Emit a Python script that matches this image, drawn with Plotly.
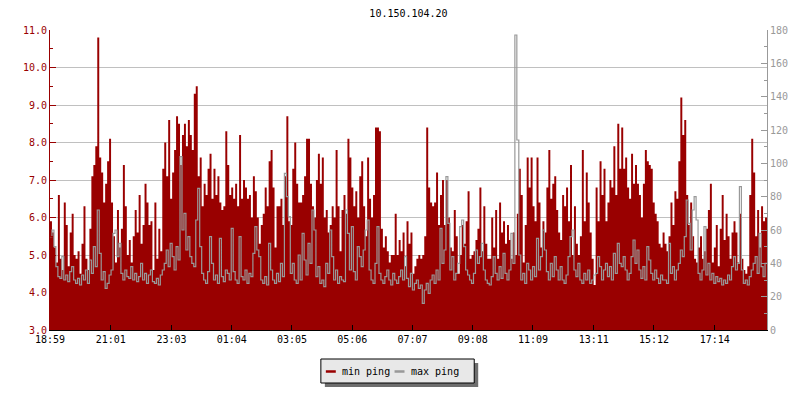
import pandas as pd
import plotly.graph_objects as go

# ---- data ----
title = "10.150.104.20"
start = pd.Timestamp("2024-01-01 18:59")
span = pd.Timedelta(hours=24)

tick_labels = ["18:59", "21:01", "23:03", "01:04", "03:05", "05:06",
               "07:07", "09:08", "11:09", "13:11", "15:12", "17:14"]

# min ping (ms, left axis), one value per ~4 minutes
min_ping = [
    # 18:59 - 22:25
    5.9, 5.6, 5.2, 4.8, 6.6, 4.9, 4.6, 6.4, 5.8, 4.7, 5.6, 6.1, 5.0, 4.9, 5.1, 4.5, 5.3, 6.3,
    4.9, 4.6, 5.7, 7.1, 7.4, 7.9, 10.8, 7.6, 7.2, 6.4, 6.9, 7.5, 8.1, 6.4, 5.5, 4.8, 6.2, 5.2,
    5.7, 7.4, 6.3, 5.0, 5.4, 4.8, 5.5, 6.2, 5.6, 6.6, 5.3, 5.8, 6.9, 6.4, 5.8, 5.9,
    # 22:25 - 01:51
    4.6, 6.4, 4.9, 5.7, 5.1, 7.3, 8.0, 7.1, 8.6, 6.5, 7.2, 7.8, 8.7, 8.5, 7.4, 8.2, 8.5, 7.9,
    8.6, 8.2, 7.8, 9.3, 9.5, 7.1, 7.6, 6.3, 6.9, 6.6, 7.3, 7.7, 6.5, 7.3, 6.6, 7.1, 6.4, 6.2,
    6.3, 8.3, 7.4, 6.6, 6.8, 6.5, 6.9, 6.3, 8.2, 6.5, 7.0, 6.8, 6.5, 6.6, 6.0, 7.1,
    # 01:51 - 05:17
    6.7, 6.0, 5.3, 5.8, 6.1, 6.8, 6.3, 7.5, 7.8, 6.8, 5.2, 6.3, 6.3, 6.5, 5.8, 7.1, 8.7, 5.9,
    5.8, 7.3, 8.0, 6.9, 6.4, 6.4, 6.6, 7.1, 8.1, 8.1, 6.9, 6.3, 6.0, 7.0, 7.7, 6.9, 7.6, 6.0,
    6.2, 5.6, 5.8, 6.3, 6.0, 7.8, 6.3, 5.1, 6.2, 6.6, 6.1, 8.1, 7.6, 6.8, 6.3, 6.7,
    # 05:17 - 08:43
    6.0, 7.1, 7.5, 6.3, 5.5, 7.6, 6.5, 6.0, 6.6, 8.4, 8.4, 8.3, 5.7, 5.2, 5.5, 5.1, 4.8, 5.0,
    5.0, 6.1, 5.0, 5.4, 5.1, 5.6, 4.7, 5.9, 5.3, 5.6, 4.5, 4.7, 4.9, 5.0, 4.9, 5.0, 5.5, 8.4,
    6.8, 6.4, 6.3, 6.4, 7.2, 5.8, 6.6, 7.0, 5.8, 7.0, 6.0, 5.2, 5.1, 6.2, 5.5, 4.5,
    # 08:43 - 12:09
    5.0, 5.8, 5.3, 5.9, 6.7, 4.9, 5.0, 5.1, 5.4, 5.7, 6.8, 5.1, 6.3, 5.3, 4.9, 4.9, 6.0, 5.2,
    6.2, 4.9, 6.4, 5.6, 5.9, 5.3, 5.8, 5.4, 4.9, 5.6, 5.0, 6.1, 7.3, 6.6, 4.8, 5.8, 7.6, 6.8,
    7.6, 6.3, 5.9, 7.6, 6.4, 5.2, 5.9, 5.6, 6.8, 7.8, 6.5, 6.9, 7.1, 6.2, 5.6, 5.4,
    # 12:09 - 15:35
    6.6, 6.3, 6.8, 5.9, 7.4, 5.0, 6.3, 5.3, 5.0, 5.5, 7.8, 5.9, 7.2, 6.4, 5.6, 4.9, 4.2, 6.8,
    5.9, 7.5, 6.6, 7.3, 5.9, 6.4, 7.0, 6.8, 7.9, 6.6, 8.5, 7.3, 8.4, 7.3, 7.6, 6.8, 6.5, 7.7,
    6.9, 7.4, 6.9, 6.6, 6.0, 6.9, 7.8, 7.5, 7.4, 7.3, 6.4, 6.1, 5.9, 5.3, 5.2, 5.6,
    # 15:35 - 18:59
    5.3, 5.1, 5.5, 6.4, 5.8, 6.7, 6.5, 7.5, 9.2, 8.2, 8.6, 6.6, 5.8, 6.4, 5.5, 4.9, 4.8, 5.2,
    5.5, 4.9, 5.1, 5.7, 6.2, 6.9, 4.8, 5.2, 5.8, 4.7, 5.7, 6.6, 5.4, 6.1, 5.5, 4.9, 5.6, 5.9,
    5.6, 4.8, 6.1, 4.9, 4.6, 4.5, 4.7, 6.6, 8.1, 7.2, 5.5, 6.2, 5.2, 6.3, 5.9, 6.0,
]

# max ping (ms, right axis)
max_ping = [
    56, 60, 50, 38, 32, 31, 44, 30, 33, 29, 35, 38, 30, 28, 31, 27, 33, 30,
    36, 28, 42, 34, 50, 38, 72, 46, 30, 35, 25, 28, 33, 36, 58, 60, 44, 52,
    34, 30, 36, 32, 31, 38, 30, 34, 29, 32, 40, 30, 34, 28, 33, 36,
    29, 28, 31, 27, 33, 36, 40, 48, 38, 52, 44, 36, 50, 42, 104, 60, 70, 48,
    56, 44, 40, 38, 66, 85, 50, 34, 30, 28, 35, 56, 40, 30, 33, 28, 55, 32,
    29, 36, 34, 30, 61, 35, 30, 28, 56, 32, 30, 36, 28, 34, 32, 46,
    62, 48, 44, 30, 28, 32, 27, 52, 36, 30, 28, 34, 29, 40, 32, 94, 80, 68,
    34, 40, 30, 28, 45, 30, 58, 42, 33, 52, 40, 72, 60, 32, 38, 28, 30, 26,
    40, 34, 60, 44, 30, 36, 28, 32, 30, 29, 72, 58, 36, 62, 35, 30,
    50, 44, 38, 48, 60, 66, 36, 30, 28, 40, 62, 34, 30, 28, 32, 36, 30, 27,
    34, 30, 28, 32, 36, 30, 44, 31, 26, 34, 24, 28, 30, 25, 27, 16, 24, 28,
    22, 30, 33, 28, 36, 30, 61, 40, 48, 92, 64, 36, 44, 30, 34, 40,
    62, 66, 50, 36, 33, 30, 28, 34, 48, 40, 44, 52, 36, 30, 28, 27, 32, 44,
    34, 30, 38, 31, 46, 34, 30, 36, 58, 40, 177, 114, 45, 30, 34, 28, 40, 36,
    30, 38, 32, 55, 36, 44, 60, 48, 35, 30, 40, 32, 44, 36, 30, 38,
    30, 28, 33, 44, 56, 60, 36, 32, 40, 30, 28, 34, 30, 36, 28, 30, 33, 34,
    44, 38, 30, 36, 40, 32, 38, 30, 46, 34, 52, 40, 38, 44, 36, 30, 34, 44,
    54, 40, 48, 36, 31, 38, 30, 50, 42, 34, 30, 36, 31, 28, 33, 30,
    30, 28, 52, 34, 38, 30, 36, 40, 48, 44, 56, 78, 64, 48, 72, 80, 66, 34,
    30, 36, 62, 33, 40, 30, 34, 28, 32, 29, 31, 27, 30, 28, 33, 30, 38, 44,
    36, 40, 86, 36, 28, 30, 27, 32, 36, 40, 44, 34, 58, 38, 32, 40,
]

RED = "#990000"
GREY = "#999999"
FONT = "DejaVu Sans Mono"

# the page body has an 8px margin, so the figure is drawn 8px smaller and
# every margin is reduced by 8px to keep the plot area at the same place
OFF = 8

# sample times; the last value is repeated at the end so the final step is drawn
step = span / len(min_ping)
times = [start + i * step for i in range(len(min_ping) + 1)]
min_y = min_ping + min_ping[-1:]
max_y = max_ping + max_ping[-1:]

tick_vals = []
for lab in tick_labels:
    t = start.normalize() + pd.Timedelta(lab + ":00")
    if t < start:
        t += pd.Timedelta(days=1)
    tick_vals.append(t)

fig = go.Figure()
fig.add_trace(go.Scatter(
    x=times, y=min_y, name="min ping", mode="lines",
    line=dict(color=RED, width=0, shape="hv"),
    fill="tozeroy", fillcolor=RED, hoverinfo="skip",
))
fig.add_trace(go.Scatter(
    x=times, y=max_y, name="max ping", mode="lines", yaxis="y2",
    line=dict(color=GREY, width=1.2, shape="hv"), hoverinfo="skip",
))

fig.update_layout(
    width=800 - OFF, height=400 - OFF,
    margin=dict(l=50 - OFF, r=30, t=30 - OFF, b=70),
    paper_bgcolor="white", plot_bgcolor="white",
    font=dict(family=FONT, size=10, color="black"),
    showlegend=False,
    title=dict(text=title, x=0.5, xref="paper", xanchor="center",
               y=1 - (13 - OFF) / (400 - OFF), yref="container", yanchor="middle",
               font=dict(family=FONT, size=10, color="black")),
    xaxis=dict(
        type="date", range=[start, start + span],
        tickvals=tick_vals, ticktext=tick_labels,
        ticks="inside", ticklen=5, tickcolor="black",
        showline=True, linecolor="black", showgrid=False, zeroline=False,
        tickfont=dict(color="black", size=10),
    ),
    yaxis=dict(
        range=[3, 11], tick0=3, dtick=1, tickformat=".1f",
        ticks="inside", ticklen=6, tickcolor=RED,
        showline=True, linecolor=RED, gridcolor="#c0c0c0", zeroline=False,
        tickfont=dict(color=RED, size=10),
        minor=dict(dtick=0.5, ticks="inside", ticklen=3, tickcolor=RED, showgrid=False),
    ),
    yaxis2=dict(
        overlaying="y", side="right", range=[0, 180], tick0=0, dtick=20,
        ticks="inside", ticklen=6, tickcolor=GREY,
        showline=True, linecolor=GREY, showgrid=False, zeroline=False,
        tickfont=dict(color=GREY, size=10),
        minor=dict(dtick=10, ticks="inside", ticklen=3, tickcolor=GREY),
    ),
)


# legend drawn by hand (page pixel -> paper coordinates)
def px(x):
    return (x - 50) / 720


def py(y):
    return (330 - y) / 300


fig.add_shape(type="rect", xref="paper", yref="paper",
              x0=px(326), x1=px(480), y0=py(363), y1=py(387),
              fillcolor="#6e6e6e", line=dict(width=0))
fig.add_shape(type="rect", xref="paper", yref="paper",
              x0=px(322), x1=px(476), y0=py(359), y1=py(383),
              fillcolor="#e8e8e8", line=dict(color="black", width=1))
for x0, color, label in [(327, RED, "min ping"), (396, GREY, "max ping")]:
    fig.add_shape(type="line", xref="paper", yref="paper",
                  x0=px(x0), x1=px(x0 + 10), y0=py(371.5), y1=py(371.5),
                  line=dict(color=color, width=2.5))
    fig.add_annotation(text=label, xref="paper", yref="paper",
                       x=px(x0 + 14), y=py(371), xanchor="left", yanchor="middle",
                       showarrow=False, font=dict(family=FONT, size=10, color="black"))

fig.write_html("out.html")
